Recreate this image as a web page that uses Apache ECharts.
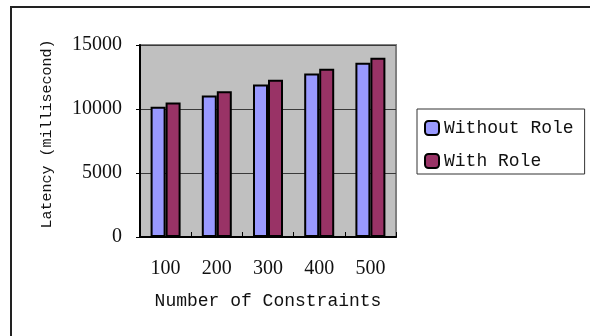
<!DOCTYPE html>
<html>
<head>
<meta charset="utf-8">
<script src="https://cdn.jsdelivr.net/npm/echarts@6/dist/echarts.min.js"></script>
<style>
  html, body { margin: 0; padding: 0; background: #fff; }
  #chart { width: 590px; height: 336px; }
</style>
</head>
<body>
<div id="chart"></div>
<script>
// Latency by number of constraints, with and without role checks
const categories = ['100', '200', '300', '400', '500'];
const withoutRole = [10170, 11050, 11910, 12770, 13610];
const withRole = [10500, 11390, 12280, 13140, 14000];
const yTicks = { min: 0, max: 15000, interval: 5000 };

const serif = '"Liberation Serif", "DejaVu Serif", serif';
const mono = '"Liberation Mono", "DejaVu Sans Mono", monospace';

const chart = echarts.init(document.getElementById('chart'), null, { renderer: 'canvas' });

const barStyle = (color) => ({ color: color, borderColor: '#000', borderWidth: 2 });

chart.setOption({
  animation: false,
  backgroundColor: '#fff',
  graphic: [
    {
      type: 'rect',
      shape: { x: 11, y: 7, width: 620, height: 360 },
      style: { fill: 'none', stroke: '#222', lineWidth: 2 },
      silent: true,
      z: 0
    }
  ],
  grid: {
    left: 140, top: 45, right: 194, bottom: 99,
    show: true,
    backgroundColor: '#c0c0c0',
    borderColor: '#808080',
    borderWidth: 2
  },
  legend: {
    orient: 'vertical',
    left: 417, top: 109,
    padding: [10, 11, 4, 7],
    itemGap: 15,
    itemWidth: 14,
    itemHeight: 14,
    borderColor: '#333',
    borderWidth: 1,
    backgroundColor: '#fff',
    textStyle: { fontFamily: mono, fontSize: 18, color: '#111' },
    data: [
      { name: 'Without Role', itemStyle: barStyle('#9999ff') },
      { name: 'With Role', itemStyle: barStyle('#993366') }
    ]
  },
  xAxis: {
    type: 'category',
    data: categories,
    name: 'Number of Constraints',
    nameLocation: 'middle',
    nameGap: 55,
    nameTextStyle: { fontFamily: mono, fontSize: 18, color: '#111' },
    axisLine: { lineStyle: { color: '#000', width: 2 } },
    axisTick: { show: true, inside: true, length: 5, lineStyle: { color: '#000', width: 1 } },
    axisLabel: { fontFamily: serif, fontSize: 20, color: '#111', margin: 22 },
    splitLine: { show: false }
  },
  yAxis: {
    type: 'value',
    min: yTicks.min, max: yTicks.max, interval: yTicks.interval,
    name: 'Latency (millisecond)',
    nameLocation: 'middle',
    nameGap: 85,
    nameRotate: 90,
    nameTextStyle: { fontFamily: mono, fontSize: 15, color: '#111', padding: [0, 0, 0, 14] },
    axisLine: { show: true, lineStyle: { color: '#000', width: 2 } },
    axisTick: { show: true, length: 4, lineStyle: { color: '#000', width: 1 } },
    axisLabel: {
      fontFamily: serif, fontSize: 20, color: '#111', margin: 18,
      formatter: (v) => String(v)
    },
    splitLine: { show: true, lineStyle: { color: '#3a3a3a', width: 1 } }
  },
  series: [
    {
      name: 'Without Role', type: 'bar', data: withoutRole,
      barWidth: 15, barGap: '0%',
      itemStyle: barStyle('#9999ff')
    },
    {
      name: 'With Role', type: 'bar', data: withRole,
      barWidth: 15, barGap: '0%',
      itemStyle: barStyle('#993366')
    }
  ]
});
</script>
</body>
</html>
